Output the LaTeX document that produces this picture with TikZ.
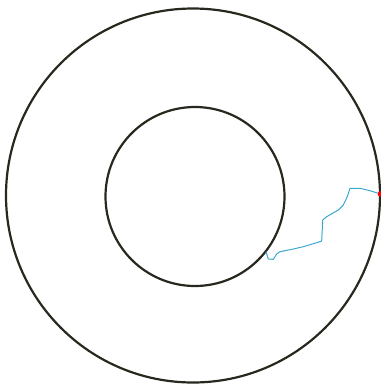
\documentclass[tikz,border=0pt]{standalone}
\definecolor{walkblue}{RGB}{60,168,208}
\definecolor{ringdark}{RGB}{40,40,30}
\begin{document}
\begin{tikzpicture}[x=1pt,y=-1pt,
  ring/.style={draw=ringdark,line width=2.2pt},
  walk/.style={draw=walkblue,line width=1pt,line join=round},
  enddot/.style={fill=red}]
\useasboundingbox (0,0) rectangle (381,384);
\draw[ring] (193,195.5) circle (187);
\draw[ring] (195,196.5) circle (89.5);
\coordinate (s) at (266,251.5);
\coordinate (e) at (380.5,194);
\draw[walk] (s) -- (268.3,259) -- (273.3,259.3) -- (276.7,254) -- (280,251.7) -- (293.3,249)
  -- (303.3,246.7) -- (316.7,242.7) -- (321.7,241) -- (322.7,220) -- (326.7,216.7)
  -- (338.3,210) -- (343.3,205) -- (347.3,196.7) -- (350,188.3) -- (360,188.3)
  -- (370,190.7) -- (e);
\fill[enddot] (e) circle (2.8);
\end{tikzpicture}
\end{document}
